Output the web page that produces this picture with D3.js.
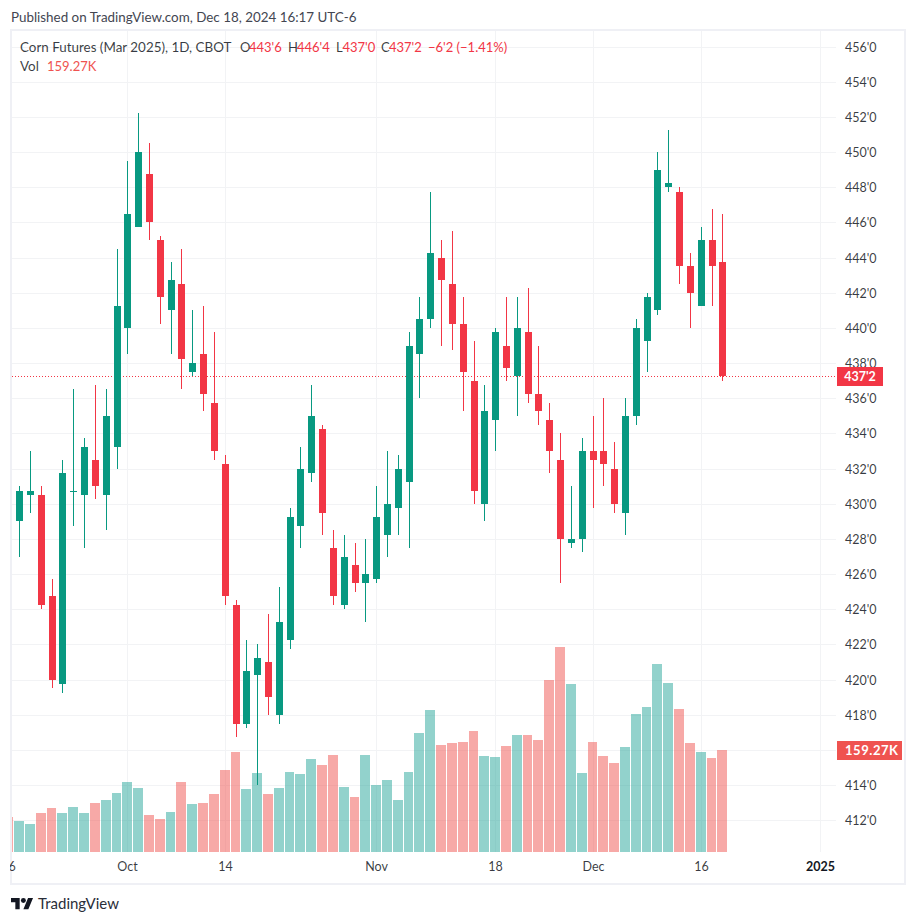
<!DOCTYPE html>
<html>
<head>
<meta charset="utf-8">
<script src="https://cdn.jsdelivr.net/npm/d3@7/dist/d3.min.js"></script>
<style>
html,body{margin:0;padding:0;background:#fff;overflow:hidden}
svg{display:block}
text{font-family:Lato,"Open Sans",sans-serif}
</style>
</head>
<body>
<svg id="c" width="916" height="923"></svg>
<script>
const opens=[430.5,429,430.5,430.5,424.75,419.75,430.75,430.5,432.5,430.5,433.25,440,445.75,448.75,445,441,442.5,437.5,438.5,435.75,432.25,424.25,417.5,420.25,421,418,422.25,428.75,431.75,434.25,427.5,424.25,426.5,425.5,425.75,428.25,429.75,431.25,438.5,440.5,444,442.5,440.25,437,430,434.75,439,437.25,439.75,436.25,434.75,432.5,427.75,428,433,433,432,429.5,435,439.25,441,448,447.75,443.5,441.25,445,443.75];
const highs=[431,431,433,431,425.75,432.5,436.5,433.75,436.75,436.5,444.5,449.5,452.25,450.5,445.25,443.75,444.5,441,441.25,439.75,432.75,424.5,422.25,422,423.75,425.25,429.75,433.25,436.75,434.5,428.5,428.25,427.75,428,431,433,432.75,439.75,441.75,447.75,445,445.5,441.75,439.25,436.75,440,441.75,441.75,442.25,439,435.75,434,431,433.75,435,436,433.5,436,440.5,442,450,451.25,448,444.25,445.75,446.75,446.5];
const lows=[429,427,429.5,424,419.5,419.25,428.75,427.5,430.25,428.5,432,438.5,445.75,445,440.25,438.5,436.5,437.25,435.25,432.5,424.25,416.75,417.25,414,418,417.5,421.75,427.5,431.25,428.25,424.25,424,425,423.25,425.5,427,428.25,427.5,436,440,439,438.75,435.25,430,429,433,437,435,435.75,434.5,431.75,425.5,427.5,427.25,429.75,431,429.5,428.25,434.5,437.5,440.75,447.75,442.5,440,441.25,441.25,437];
const closes=[429.25,430.75,430.75,424.25,420,431.75,430.75,433.25,431,435,441.25,446.5,450,446,441.75,442.75,438.25,438,436.25,433,424.75,417.5,420.5,421.25,419,423.25,429.25,432,435,429.5,424.75,427,425.5,426,429.25,430,432,439,440.5,444.25,442.75,440.25,437.5,430.75,435.25,439.75,437.75,440,436.25,435.25,433,428,428,433,432.5,432.25,430,435,440,441.75,449,448.25,443.5,442,445,443.5,437.25];
const volumes=[54.7,48.4,43.7,60.9,68.7,60.9,70.3,60.9,76.5,81.2,92.1,109.3,99.9,57.8,51.5,62.5,109.3,75,76.5,90.6,128.1,156.2,98.4,123.4,90.6,99.9,124.9,121.8,145.2,135.9,151.5,101.5,85.9,151.5,104.6,112.4,81.2,124.9,185.8,221.8,167.1,170.2,171.8,189,149.9,148.4,165.5,182.7,182.7,174.9,268.6,320.1,262.4,123.4,171.8,149.9,139,164,215.5,226.4,293.6,263.9,223.3,170.2,156.2,146.8,159.27];
const priceTicks=[456,454,452,450,448,446,444,442,440,438,436,434,432,430,428,426,424,422,420,418,416,414,412];
const priceLabelsCovered=[416];
const timeTickBars=[0,11,20,34,45,54,64,75];
const timeTickLabels=["16","Oct","14","Nov","18","Dec","16","2025"];
const lastPrice=437.25;
const lastVolumeLabel="159.27K";
const publishedLabel="Published on TradingView.com, Dec 18, 2024 16:17 UTC-6";
const symbolLabel="Corn Futures (Mar 2025), 1D, CBOT";
const ohlcLabels=["O","443'6","H","446'4","L","437'0","C","437'2","−6'2 (−1.41%)"];

const GREEN="#089981",RED="#F23645",VGREEN="#26a69a",VRED="#ef5350",GRID="#f2f3f5",BORDER="#eff0f5",INK="#131722";
const svg=d3.select("#c");
svg.append("defs").append("clipPath").attr("id","pane").append("rect").attr("x",12).attr("y",31).attr("width",824).attr("height",821);
svg.select("defs").append("clipPath").attr("id","timeAxis").append("rect").attr("x",10).attr("y",852).attr("width",826).attr("height",30);

const x=d3.scaleLinear().domain([0,66]).range([8.332,722.32]);
const y=d3.scaleLinear().domain([412,456]).range([820.3,46.6]);
const v=d3.scaleLinear().domain([0,159.27]).range([852,750]);
const px=i=>Math.round(x(i));
const fmtPrice=p=>{const w=Math.floor(p);return w+"'"+Math.round((p-w)*8)};
const bars=opens.map((o,i)=>({i,o,h:highs[i],l:lows[i],c:closes[i],vol:volumes[i],up:closes[i]>=o}));

// frame
svg.append("rect").attr("x",11).attr("y",30).attr("width",894).attr("height",854)
  .attr("fill","#fff").attr("stroke",BORDER).attr("stroke-width",2);

// grid
const grid=svg.append("g").attr("shape-rendering","crispEdges");
grid.selectAll("line.h").data(priceTicks).join("line").attr("class","h")
  .attr("x1",12).attr("x2",836).attr("y1",d=>Math.round(y(d))+.5).attr("y2",d=>Math.round(y(d))+.5)
  .attr("stroke",GRID);
grid.selectAll("line.v").data(timeTickBars).join("line").attr("class","v")
  .attr("clip-path","url(#pane)")
  .attr("x1",d=>px(d)+.5).attr("x2",d=>px(d)+.5).attr("y1",31).attr("y2",852)
  .attr("stroke",GRID);

const pane=svg.append("g").attr("clip-path","url(#pane)").attr("shape-rendering","crispEdges");

// volume
pane.append("g").selectAll("rect").data(bars).join("rect")
  .attr("x",d=>px(d.i)-5)
  .attr("width",d=>d.i<bars.length-1?Math.min(10,px(d.i+1)-px(d.i)-1):10)
  .attr("y",d=>Math.round(v(d.vol)))
  .attr("height",d=>852-Math.round(v(d.vol)))
  .attr("fill",d=>d.up?VGREEN:VRED).attr("fill-opacity",.5);

// last price line
pane.append("line").attr("x1",12).attr("x2",836).attr("y1",Math.round(y(lastPrice))+.5).attr("y2",Math.round(y(lastPrice))+.5)
  .attr("stroke",RED).attr("stroke-dasharray","1,2");

// candles
pane.append("g").selectAll("rect").data(bars).join("rect")
  .attr("x",d=>px(d.i)).attr("width",1)
  .attr("y",d=>Math.round(y(d.h)))
  .attr("height",d=>Math.max(1,Math.round(y(d.l))-Math.round(y(d.h))))
  .attr("fill",d=>d.up?GREEN:RED);
pane.append("g").selectAll("rect").data(bars).join("rect")
  .attr("x",d=>px(d.i)-3).attr("width",7)
  .attr("y",d=>Math.round(y(Math.max(d.o,d.c))))
  .attr("height",d=>Math.max(1,Math.round(y(Math.min(d.o,d.c)))-Math.round(y(Math.max(d.o,d.c)))))
  .attr("fill",d=>d.up?GREEN:RED);

// price axis
const pa=svg.append("g").attr("transform","translate(845,0)")
  .call(d3.axisRight(y).tickValues(priceTicks.filter(t=>!priceLabelsCovered.includes(t))).tickFormat(fmtPrice).tickSize(0).tickPadding(0));
pa.select(".domain").remove();
pa.selectAll("g.tick").attr("transform",d=>`translate(0,${Math.round(y(d))+.5})`);
pa.selectAll("text").attr("font-size",12.5).attr("fill",INK).attr("fill-opacity",.85).attr("style","font-family:Lato,sans-serif");

// time axis
const ta=svg.append("g").attr("clip-path","url(#timeAxis)").append("g").attr("transform","translate(0,852)")
  .call(d3.axisBottom(x).tickValues(timeTickBars).tickFormat(d=>timeTickLabels[timeTickBars.indexOf(d)]).tickSize(0).tickPadding(10));
ta.select(".domain").remove();
ta.selectAll("g.tick").attr("transform",d=>`translate(${px(d)+.5},0)`);
ta.selectAll("text").attr("font-size",12.5).attr("fill",INK)
  .attr("font-weight",d=>d===75?700:400).attr("fill-opacity",d=>d===75?1:.85);

// badges
svg.append("rect").attr("x",837).attr("y",367).attr("width",46).attr("height",19).attr("fill",RED);
svg.append("text").attr("x",860).attr("y",381).attr("text-anchor","middle").attr("fill","#fff").attr("font-size",12.5).attr("font-weight",700).text(fmtPrice(lastPrice));
svg.append("rect").attr("x",837).attr("y",741).attr("width",65).attr("height",19).attr("fill",VRED);
svg.append("text").attr("x",845).attr("y",755).attr("fill","#fff").attr("font-size",13).attr("font-weight",700).attr("letter-spacing",.55).text(lastVolumeLabel);

// header and legend
svg.append("text").attr("x",11).attr("y",22).attr("font-size",13.4).attr("fill","#434651").text(publishedLabel);
svg.append("text").attr("x",20).attr("y",52).attr("font-size",13.4).attr("fill",INK).attr("fill-opacity",.85).text(symbolLabel);
const ohlcX=[240,249,288,297,336,342.5,381,389,428];
ohlcLabels.forEach((t,i)=>{
  const isHead=i<8&&i%2===0;
  svg.append("text").attr("x",ohlcX[i]).attr("y",52).attr("font-size",13)
    .attr("fill",isHead?INK:RED).attr("fill-opacity",isHead?.85:1).text(t);
});
svg.append("text").attr("x",20).attr("y",71).attr("font-size",13.4).attr("fill",INK).attr("fill-opacity",.85).text("Vol");
svg.append("text").attr("x",47).attr("y",71).attr("font-size",13).attr("fill",VRED).text(lastVolumeLabel);

// logo
const logo=svg.append("g").attr("transform","translate(11,895.5) scale(0.62)").attr("fill","#131722");
logo.append("path").attr("d","M14 22H7V11H0V4h14v18zM28 22h-8l7.5-18h8L28 22z");
logo.append("circle").attr("cx",20).attr("cy",8).attr("r",4);
svg.append("text").attr("x",38).attr("y",908.5).attr("font-size",15).attr("fill","#2a2e39").text("TradingView");
</script>
</body>
</html>
